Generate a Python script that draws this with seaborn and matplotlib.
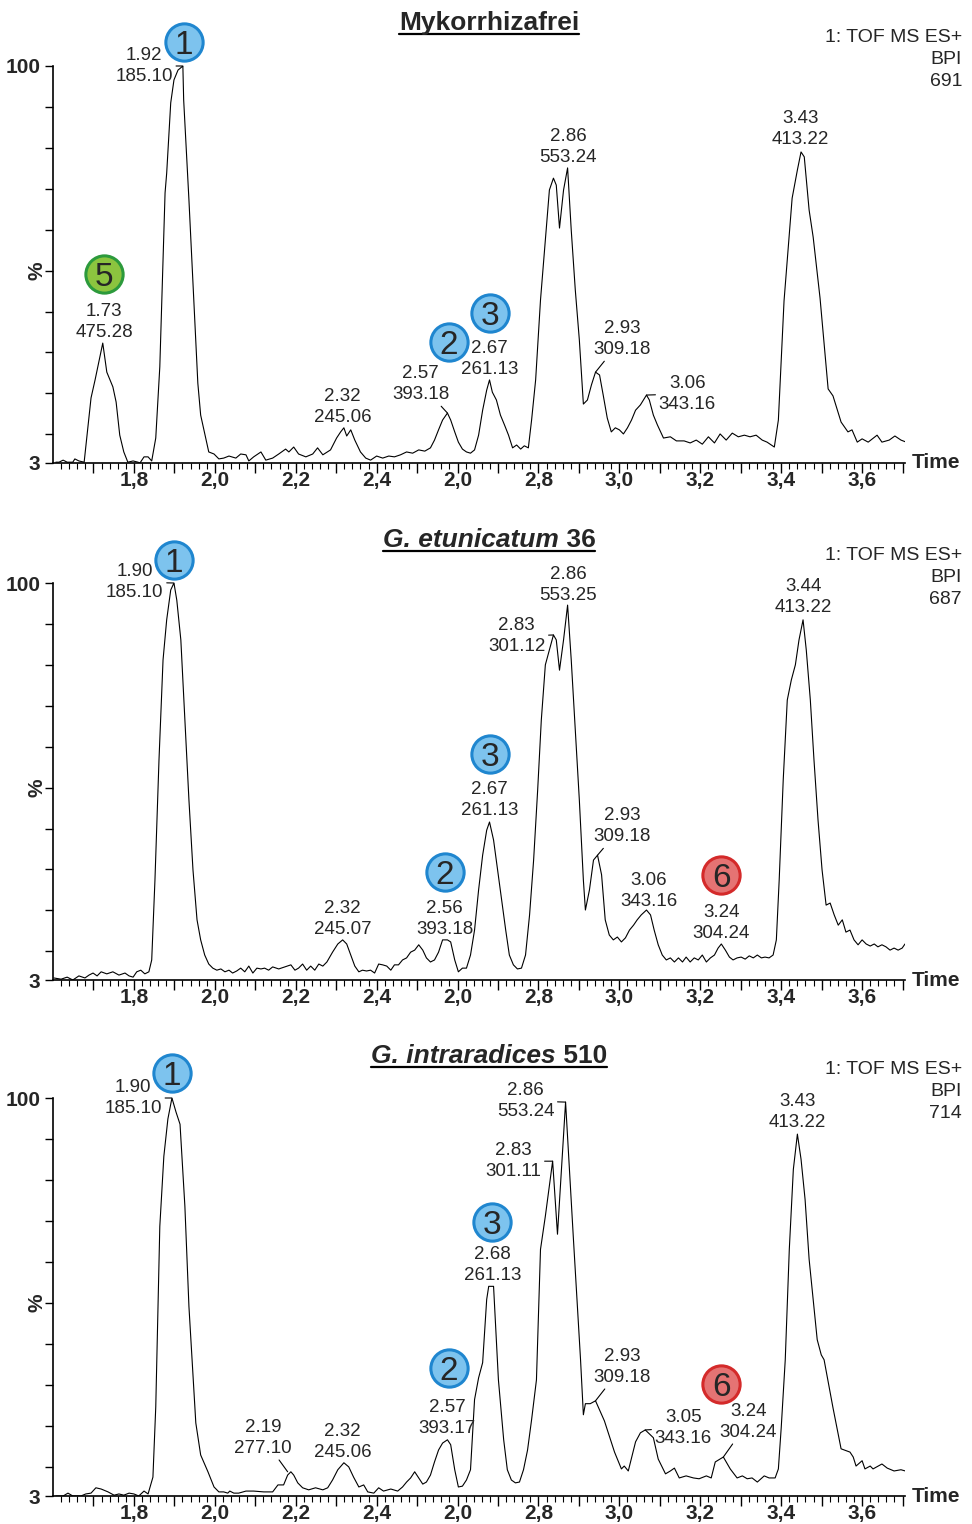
import numpy as np
import pandas as pd
import matplotlib
matplotlib.use("Agg")
import matplotlib.pyplot as plt
import seaborn as sns
from matplotlib import transforms
from matplotlib.lines import Line2D

sns.set_style("ticks")
plt.rcParams["font.family"] = ["Liberation Sans", "DejaVu Sans"]

# ---------------- data: Mykorrhizafrei ----------------
t_myk = [1.607,1.615,1.625,1.635,1.649,1.654,1.664,1.677,1.694,1.704,
         1.723,1.733,1.748,1.756,1.765,1.775,1.785,1.798,1.810,1.815,
         1.825,1.835,1.844,1.854,1.864,1.877,1.881,1.891,1.899,1.909,
         1.921,1.923,1.936,1.948,1.958,1.965,1.985,1.998,2.010,2.022,
         2.035,2.052,2.064,2.077,2.084,2.096,2.114,2.126,2.143,2.158,
         2.175,2.183,2.195,2.207,2.225,2.242,2.254,2.267,2.286,2.301,
         2.311,2.319,2.326,2.336,2.346,2.360,2.373,2.385,2.400,2.415,
         2.430,2.444,2.459,2.474,2.489,2.504,2.519,2.533,2.543,2.553,
         2.563,2.575,2.583,2.593,2.602,2.612,2.622,2.632,2.642,2.652,
         2.662,2.672,2.679,2.686,2.696,2.706,2.716,2.726,2.736,2.746,
         2.756,2.765,2.775,2.783,2.793,2.805,2.817,2.827,2.837,2.844,
         2.852,2.862,2.872,2.881,2.891,2.901,2.911,2.921,2.931,2.941,
         2.951,2.960,2.970,2.980,2.990,3.000,3.010,3.020,3.030,3.040,
         3.052,3.067,3.074,3.084,3.094,3.109,3.126,3.141,3.160,3.175,
         3.190,3.205,3.220,3.235,3.249,3.264,3.279,3.294,3.309,3.323,
         3.338,3.353,3.365,3.383,3.393,3.407,3.427,3.440,3.449,3.457,
         3.469,3.479,3.496,3.516,3.528,3.548,3.565,3.575,3.588,3.600,
         3.615,3.637,3.649,3.667,3.681,3.696,3.709]
i_myk = [3.2,3.2,3.7,3.2,3.2,4.0,3.5,3.2,18.9,23.3,
         32.3,25.2,21.6,17.9,9.8,5.7,3.2,3.5,3.2,3.0,
         4.5,4.5,3.5,9.1,26.5,69.0,73.8,91.0,96.6,99.0,
         100.0,91.7,67.3,42.8,22.5,14.7,5.7,5.2,4.0,4.2,
         4.7,4.2,5.2,5.0,3.5,4.5,5.7,3.7,4.2,5.2,
         6.4,5.7,6.9,5.2,4.5,5.2,6.7,5.0,6.2,9.1,
         10.6,11.6,9.6,11.1,8.6,5.7,4.2,3.7,4.7,4.2,
         4.7,4.5,5.0,5.7,5.4,6.2,5.9,6.7,8.6,11.1,
         13.5,15.2,13.5,10.6,8.1,6.4,5.7,5.4,6.2,9.8,
         15.9,20.8,23.3,20.3,18.4,14.7,12.3,9.8,6.7,7.4,
         6.4,7.2,6.7,13.5,23.3,42.8,57.5,69.7,72.6,70.9,
         60.4,69.7,75.1,59.9,45.3,33.1,17.4,18.4,22.1,25.2,
         24.5,19.6,14.0,10.6,11.6,11.1,10.1,11.6,13.5,15.9,
         17.2,19.6,18.4,14.7,12.3,9.1,9.4,8.4,8.4,7.9,
         8.6,7.6,9.4,7.9,10.1,8.6,10.3,9.4,9.8,9.4,
         9.8,8.6,8.1,6.9,13.5,42.6,67.7,74.6,79.0,77.8,
         64.8,58.2,43.3,21.1,19.4,13.0,10.6,11.1,8.1,8.9,
         8.1,9.8,8.1,8.6,9.6,8.6,8.1]

# ---------------- data: G. etunicatum 36 ----------------
t_etu = [1.602,1.620,1.635,1.649,1.664,1.679,1.689,1.699,1.709,1.719,
         1.733,1.748,1.763,1.778,1.788,1.798,1.807,1.817,1.827,1.837,
         1.844,1.852,1.862,1.872,1.881,1.891,1.899,1.906,1.916,1.926,
         1.936,1.946,1.956,1.965,1.975,1.985,1.995,2.005,2.015,2.025,
         2.035,2.044,2.054,2.064,2.074,2.084,2.094,2.104,2.114,2.123,
         2.133,2.143,2.158,2.173,2.188,2.198,2.207,2.217,2.227,2.237,
         2.247,2.257,2.267,2.277,2.291,2.304,2.316,2.326,2.336,2.346,
         2.356,2.365,2.375,2.385,2.395,2.405,2.415,2.425,2.435,2.444,
         2.454,2.464,2.474,2.484,2.494,2.504,2.514,2.523,2.533,2.543,
         2.553,2.563,2.575,2.583,2.593,2.602,2.612,2.622,2.632,2.642,
         2.652,2.662,2.672,2.679,2.689,2.699,2.709,2.719,2.728,2.738,
         2.748,2.758,2.768,2.778,2.788,2.798,2.807,2.817,2.827,2.837,
         2.844,2.852,2.862,2.872,2.881,2.891,2.901,2.911,2.916,2.926,
         2.936,2.946,2.956,2.965,2.975,2.985,2.995,3.005,3.015,3.025,
         3.035,3.044,3.054,3.067,3.077,3.086,3.096,3.106,3.116,3.126,
         3.136,3.146,3.156,3.165,3.175,3.185,3.195,3.205,3.215,3.225,
         3.235,3.244,3.252,3.262,3.272,3.281,3.291,3.301,3.311,3.321,
         3.331,3.341,3.351,3.360,3.370,3.380,3.388,3.395,3.405,3.415,
         3.425,3.435,3.444,3.454,3.462,3.472,3.481,3.491,3.501,3.511,
         3.521,3.531,3.541,3.551,3.560,3.570,3.580,3.590,3.600,3.610,
         3.620,3.630,3.639,3.649,3.659,3.669,3.679,3.689,3.699,3.706]
i_etu = [3.5,3.2,3.7,3.0,4.0,3.5,4.2,4.7,4.0,5.0,
         4.5,5.0,4.2,4.7,4.0,3.7,5.0,5.4,4.5,5.0,
         7.9,27.4,56.8,81.2,91.0,98.3,100.0,95.8,86.1,66.5,
         47.0,29.9,17.7,12.8,9.1,6.9,5.9,5.4,5.7,5.0,
         5.4,4.7,5.2,5.9,5.0,6.4,4.7,5.9,5.7,5.9,
         5.4,6.2,5.7,6.2,6.7,5.4,5.9,6.9,5.4,6.4,
         5.4,6.9,6.4,7.4,9.8,11.8,12.8,11.8,9.1,6.4,
         5.0,5.4,5.2,5.4,4.7,6.9,6.7,6.4,5.4,6.7,
         6.7,7.9,8.4,9.8,10.3,11.6,10.3,8.4,7.4,7.9,
         9.8,12.8,12.8,12.3,7.9,5.0,5.9,5.9,9.1,15.2,
         25.0,33.5,39.6,41.6,37.2,29.9,22.5,15.2,9.1,6.7,
         5.7,5.9,9.1,18.9,32.3,49.4,66.5,80.0,83.6,87.3,
         86.1,78.7,86.1,94.6,81.2,64.1,47.0,27.4,20.1,25.0,
         32.3,33.5,28.7,17.7,14.0,12.8,13.5,12.3,13.3,15.2,
         16.4,17.7,18.9,20.1,18.9,15.2,11.6,9.1,7.9,8.4,
         7.4,8.4,7.4,8.6,7.4,8.4,7.9,9.1,7.4,8.4,
         9.1,10.8,11.8,10.3,8.6,7.9,8.4,8.6,8.1,8.9,
         8.4,9.1,8.4,8.6,8.4,9.1,12.8,27.4,51.9,71.4,
         76.3,80.0,86.1,91.0,83.6,71.4,56.8,42.1,29.9,21.3,
         21.8,18.9,16.4,17.7,14.7,15.2,12.8,11.6,12.8,11.8,
         11.3,11.8,11.1,11.6,11.1,10.3,10.8,10.3,10.8,11.8]

# ---------------- data: G. intraradices 510 ----------------
t_int = [1.607,1.625,1.637,1.649,1.669,1.681,1.694,1.706,1.719,1.736,
         1.751,1.763,1.775,1.788,1.800,1.812,1.825,1.835,1.847,1.854,
         1.864,1.874,1.884,1.894,1.904,1.914,1.926,1.936,1.953,1.965,
         1.983,1.998,2.010,2.022,2.032,2.037,2.047,2.059,2.077,2.096,
         2.121,2.143,2.156,2.170,2.180,2.188,2.195,2.205,2.217,2.232,
         2.249,2.267,2.279,2.291,2.304,2.319,2.331,2.343,2.356,2.368,
         2.378,2.393,2.405,2.417,2.435,2.452,2.464,2.474,2.484,2.494,
         2.504,2.514,2.523,2.533,2.543,2.553,2.563,2.575,2.583,2.593,
         2.602,2.612,2.622,2.632,2.642,2.652,2.662,2.672,2.677,2.689,
         2.701,2.714,2.723,2.733,2.743,2.753,2.763,2.773,2.783,2.795,
         2.805,2.817,2.835,2.847,2.867,2.886,2.904,2.911,2.916,2.928,
         2.941,2.963,2.988,3.005,3.012,3.022,3.040,3.052,3.064,3.084,
         3.096,3.114,3.126,3.136,3.148,3.165,3.183,3.197,3.215,3.227,
         3.237,3.257,3.274,3.291,3.304,3.316,3.328,3.341,3.358,3.370,
         3.385,3.393,3.400,3.410,3.420,3.430,3.440,3.449,3.459,3.469,
         3.479,3.489,3.499,3.506,3.528,3.548,3.570,3.578,3.585,3.600,
         3.607,3.620,3.627,3.649,3.662,3.679,3.696,3.714]
i_int = [3.0,3.0,3.7,3.0,3.0,3.5,3.7,5.0,4.7,4.0,
         3.2,3.5,3.2,3.7,3.5,3.0,4.2,3.5,7.6,24.7,
         68.7,85.8,94.9,100.0,96.6,93.6,73.6,49.2,20.8,13.0,
         8.9,5.2,4.0,4.0,3.7,4.2,3.7,3.7,4.2,4.2,
         4.0,4.0,5.7,5.7,8.1,8.9,8.1,6.2,5.0,4.5,
         5.0,4.5,5.0,6.9,9.4,11.1,10.1,7.6,5.2,5.7,
         4.0,3.7,5.0,4.2,4.7,4.2,5.2,6.4,7.4,8.9,
         7.4,5.9,6.4,8.1,11.3,14.2,15.9,16.7,15.5,9.4,
         5.2,5.4,6.9,9.4,26.5,31.8,35.5,50.9,54.1,54.1,
         31.3,16.7,9.4,6.9,6.2,6.4,9.4,14.2,21.6,31.3,
         63.1,71.2,84.6,66.8,99.0,66.3,36.2,22.8,25.5,25.5,
         26.2,21.3,13.7,9.6,10.3,9.1,16.2,18.4,19.1,17.2,
         12.0,8.4,9.1,9.8,7.4,7.9,7.4,7.2,7.9,7.4,
         11.3,12.5,9.6,7.4,7.9,7.2,7.4,6.4,7.9,7.4,
         7.4,9.6,19.6,36.2,63.1,82.6,91.2,85.1,75.3,60.7,
         50.9,41.1,37.4,36.2,24.5,14.5,13.7,12.5,10.3,11.6,
         9.6,10.3,9.6,10.8,9.8,9.1,9.4,8.9]

# x tick labels exactly as printed in the original figure
tick_vals = [1.8, 2.0, 2.2, 2.4, 2.6, 2.8, 3.0, 3.2, 3.4, 3.6]
tick_text = ["1,8", "2,0", "2,2", "2,4", "2,0", "2,8", "3,0", "3,2", "3,4", "3,6"]

titles = [[("Mykorrhizafrei", "normal")],
          [("G. etunicatum", "italic"), (" 36", "normal")],
          [("G. intraradices", "italic"), (" 510", "normal")]]
bpi_values = ["691", "687", "714"]

# peak labels: (text, peak time, peak %, label time, label %, leader)
labels_myk = [("1.92\n185.10", 1.921, 100.0, 1.825, 100.0, True),
              ("1.73\n475.28", 1.723, 32.3, 1.726, 37.4, False),
              ("2.32\n245.06", 2.319, 11.6, 2.316, 16.6, False),
              ("2.57\n393.18", 2.575, 15.2, 2.509, 22.3, True),
              ("2.67\n261.13", 2.679, 23.3, 2.679, 28.4, False),
              ("2.86\n553.24", 2.872, 75.1, 2.874, 80.2, False),
              ("2.93\n309.18", 2.941, 25.2, 3.007, 33.3, True),
              ("3.06\n343.16", 3.067, 19.6, 3.168, 19.9, True),
              ("3.43\n413.22", 3.449, 79.0, 3.447, 84.6, False)]
labels_etu = [("1.90\n185.10", 1.899, 100.0, 1.802, 100.2, True),
              ("2.32\n245.07", 2.316, 12.8, 2.316, 17.9, False),
              ("2.56\n393.18", 2.575, 12.8, 2.568, 17.9, False),
              ("2.67\n261.13", 2.679, 41.6, 2.679, 47.0, False),
              ("2.83\n301.12", 2.837, 87.3, 2.746, 87.0, True),
              ("2.86\n553.25", 2.872, 94.6, 2.874, 99.5, False),
              ("2.93\n309.18", 2.946, 33.5, 3.007, 40.6, True),
              ("3.06\n343.16", 3.067, 20.1, 3.072, 24.7, False),
              ("3.24\n304.24", 3.252, 11.8, 3.252, 16.9, False),
              ("3.44\n413.22", 3.454, 91.0, 3.454, 96.6, False)]
labels_int = [("1.90\n185.10", 1.894, 100.0, 1.798, 100.0, True),
              ("2.19\n277.10", 2.180, 8.9, 2.119, 17.2, True),
              ("2.32\n245.06", 2.319, 11.1, 2.316, 16.2, False),
              ("2.57\n393.17", 2.575, 16.7, 2.575, 22.1, False),
              ("2.68\n261.13", 2.683, 54.1, 2.686, 59.4, False),
              ("2.83\n301.11", 2.835, 84.6, 2.738, 84.6, True),
              ("2.86\n553.24", 2.867, 99.0, 2.768, 99.3, True),
              ("2.93\n309.18", 2.941, 26.2, 3.007, 34.5, True),
              ("3.05\n343.16", 3.064, 19.1, 3.158, 19.6, True),
              ("3.24\n304.24", 3.257, 12.5, 3.319, 21.1, True),
              ("3.43\n413.22", 3.440, 91.2, 3.440, 96.6, False)]

# numbered compound markers: (number, time, %, kind)
marks_myk = [("1", 1.923, 105.9, "blue"), ("5", 1.726, 49.2, "green"),
             ("2", 2.578, 32.6, "blue"), ("3", 2.679, 39.6, "blue")]
marks_etu = [("1", 1.899, 105.6, "blue"), ("3", 2.679, 58.2, "blue"),
             ("2", 2.568, 29.4, "blue"), ("6", 3.252, 28.7, "red")]
marks_int = [("1", 1.894, 106.1, "blue"), ("3", 2.684, 69.7, "blue"),
             ("2", 2.578, 34.3, "blue"), ("6", 3.252, 30.4, "red")]

mark_colors = {"blue": ("#7DC3EE", "#1F86CF"),
               "green": ("#8CC43F", "#2C9A3C"),
               "red": ("#E57373", "#D42A2A")}

panels = [(t_myk, i_myk, labels_myk, marks_myk),
          (t_etu, i_etu, labels_etu, marks_etu),
          (t_int, i_int, labels_int, marks_int)]

W, H = 972, 1524
fig = plt.figure(figsize=(W / 100, H / 100), dpi=100)
panel_px = [(66, 463), (583, 980), (1098, 1496)]   # top / bottom of axes in pixels
title_base_px = [30, 547, 1063]

narrow = ["Liberation Sans Narrow", "Liberation Sans", "DejaVu Sans"]

for k, ((t, inten, labs, marks), (top, bot)) in enumerate(zip(panels, panel_px)):
    ax = fig.add_axes([53 / W, 1 - bot / H, 852 / W, (bot - top) / H])
    df = pd.DataFrame({"Time": t, "Intensity": inten})
    sns.lineplot(data=df, x="Time", y="Intensity", ax=ax, color="black",
                 linewidth=0.8, sort=False, estimator=None)
    ax.set_xlim(1.60, 3.706)
    ax.set_ylim(3, 100)
    ax.set_xlabel("")
    ax.set_ylabel("")
    sns.despine(ax=ax)
    for s in ("left", "bottom"):
        ax.spines[s].set_color("black")
        ax.spines[s].set_linewidth(1.2)

    # y ticks
    ax.set_yticks([3, 100])
    ax.set_yticklabels(["3", "100"], fontsize=15, fontweight="bold")
    ax.set_yticks(np.arange(10, 100, 10), minor=True)
    ax.tick_params(axis="y", which="both", length=6, width=1.0, color="black",
                   direction="out", pad=3)

    # x ticks
    major = np.round(np.arange(1.7, 3.71, 0.1), 2)
    ax.set_xticks(major)
    lab = []
    for v in major:
        hit = [s for tv, s in zip(tick_vals, tick_text) if abs(tv - v) < 1e-6]
        lab.append(hit[0] if hit else "")
    ax.set_xticklabels(lab, fontsize=15, fontweight="bold", family=narrow)
    ax.set_xticks(np.round(np.arange(1.62, 3.70, 0.02), 2), minor=True)
    ax.tick_params(axis="x", which="major", length=7, width=1.0, color="black",
                   direction="out", pad=-1)
    ax.tick_params(axis="x", which="minor", length=4, width=0.8, color="black",
                   direction="out")

    # "%" label and "Time"
    tr = transforms.blended_transform_factory(ax.transAxes, ax.transData)
    ax.text(-16 / 852, 50, "%", transform=tr, rotation=90, ha="center", va="center",
            fontsize=15, fontweight="bold")
    ax.text(1 + 7 / 852, 0, "Time", transform=ax.transAxes, ha="left", va="center",
            fontsize=15, fontweight="bold")

    # peak labels
    for txt, tp, ip, tt, it, leader in labs:
        kw = {}
        if leader:
            kw["arrowprops"] = dict(arrowstyle="-", lw=0.8, color="black",
                                    shrinkA=0, shrinkB=0)
        ax.annotate(txt, xy=(tp, ip), xytext=(tt, it), textcoords="data",
                    ha="center", va="center", fontsize=13.5, linespacing=1.3,
                    annotation_clip=False, **kw)

    # numbered circles
    for num, tm, im, kind in marks:
        fc, ec = mark_colors[kind]
        ax.scatter([tm], [im], s=720, c=fc, edgecolors=ec, linewidths=2.2,
                   zorder=5, clip_on=False)
        ax.text(tm, im, num, ha="center", va="center_baseline", fontsize=24,
                zorder=6, clip_on=False)

    # instrument info
    info_top = top - 28
    for j, s in enumerate(["1: TOF MS ES+", "BPI", bpi_values[k]]):
        fig.text(962 / W, 1 - (info_top + j * 22) / H, s, ha="right", va="center",
                 fontsize=14)

# titles with underline
renderer = fig.canvas.get_renderer()
for parts, base in zip(titles, title_base_px):
    texts = []
    for s, st in parts:
        texts.append(fig.text(0, 1 - base / H, s, fontsize=19, fontweight="bold",
                              style=st, ha="left", va="baseline"))
    widths = [tx.get_window_extent(renderer).width for tx in texts]
    total = sum(widths)
    x0 = 489 - total / 2
    start = x0
    for tx, w in zip(texts, widths):
        tx.set_x(x0 / W)
        x0 += w
    fig.add_artist(Line2D([start / W, (start + total) / W],
                          [1 - (base + 4) / H, 1 - (base + 4) / H],
                          color="black", linewidth=1.6))

fig.savefig("out.png", dpi=100)
